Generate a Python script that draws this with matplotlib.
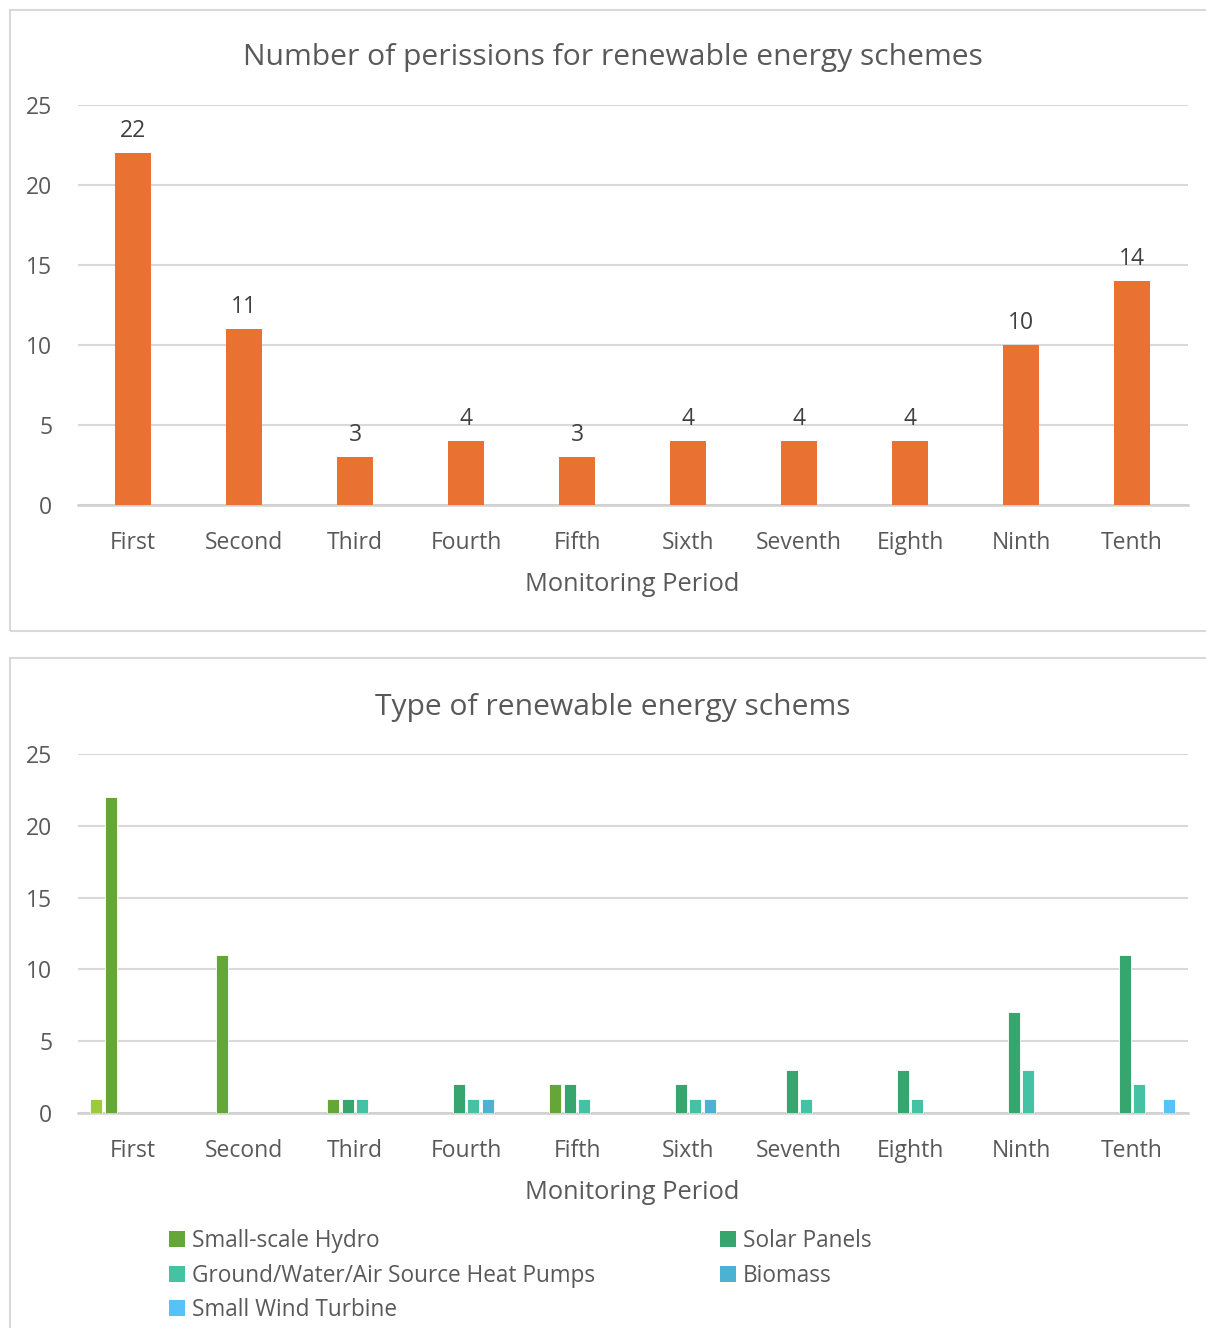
import matplotlib
matplotlib.use("Agg")
import matplotlib.pyplot as plt
import numpy as np
from matplotlib.patches import Rectangle, Patch

plt.rcParams['font.family'] = ['Open Sans', 'DejaVu Sans']

periods = ["First", "Second", "Third", "Fourth", "Fifth",
           "Sixth", "Seventh", "Eighth", "Ninth", "Tenth"]
permissions = [22, 11, 3, 4, 3, 4, 4, 4, 10, 14]

other = [1, 0, 0, 0, 0, 0, 0, 0, 0, 0]
hydro = [22, 11, 1, 0, 2, 0, 0, 0, 0, 0]
solar = [0, 0, 1, 2, 2, 2, 3, 3, 7, 11]
heat_pumps = [0, 0, 1, 1, 1, 1, 1, 1, 3, 2]
biomass = [0, 0, 0, 1, 0, 1, 0, 0, 0, 0]
wind = [0, 0, 0, 0, 0, 0, 0, 0, 0, 1]

series_names = ["", "Small-scale Hydro", "Solar Panels",
                "Ground/Water/Air Source Heat Pumps", "Biomass", "Small Wind Turbine"]
series_values = [other, hydro, solar, heat_pumps, biomass, wind]
series_colors = ["#9BCB3B", "#64A638", "#37A56E", "#44C2A3", "#4DB2D2", "#56C3F8"]

W, H = 1206, 1328
fig = plt.figure(figsize=(W / 100, H / 100), dpi=100)
fig.patch.set_facecolor("white")

TXT = "#595959"
GRID = "#D9D9D9"
TICK_FS = 16.5


def px_axes(x0, y0, x1, y1):
    return fig.add_axes([x0 / W, 1 - y1 / H, (x1 - x0) / W, (y1 - y0) / H])


def style_axes(ax):
    ax.set_xlim(-0.5, len(periods) - 0.5)
    ax.set_ylim(0, 25)
    ax.set_yticks(range(0, 26, 5))
    ax.yaxis.grid(True, color=GRID, linewidth=1.5)
    ax.set_axisbelow(True)
    for s in ["top", "right", "left"]:
        ax.spines[s].set_visible(False)
    ax.spines["bottom"].set_color("#D0D0D0")
    ax.spines["bottom"].set_linewidth(1.8)
    ax.tick_params(axis="both", length=0, labelsize=TICK_FS, labelcolor=TXT)
    ax.tick_params(axis="x", pad=19)
    ax.tick_params(axis="y", pad=18)
    ax.set_xticks(range(len(periods)))
    ax.set_xticklabels(periods)
    ax.set_xlabel("Monitoring Period", fontsize=18.3, color=TXT, labelpad=12)


# panel frames
fig.add_artist(Rectangle((10 / W, 1 - 631 / H), 1200 / W, 621 / H, transform=fig.transFigure,
                         facecolor="none", edgecolor=GRID, linewidth=1.5))
fig.add_artist(Rectangle((10 / W, 1 - 1340 / H), 1200 / W, 682 / H, transform=fig.transFigure,
                         facecolor="none", edgecolor=GRID, linewidth=1.5))

# top chart: total permissions
ax1 = px_axes(77.5, 105, 1187.5, 505)
style_axes(ax1)
x = np.arange(len(periods))
bars = ax1.bar(x, permissions, width=0.32, color="#E97132", zorder=3)
ax1.bar_label(bars, labels=[str(v) for v in permissions], padding=7, fontsize=TICK_FS, color="#404040")
fig.text(613 / W, 1 - 57 / H, "Number of perissions for renewable energy schemes",
         ha="center", va="center", fontsize=21.6, color=TXT)

# bottom chart: scheme types
ax2 = px_axes(77.5, 754, 1187.5, 1113)
style_axes(ax2)
n = len(series_values)
bw = 0.133
for i, (name, vals, col) in enumerate(zip(series_names, series_values, series_colors)):
    offs = (i - (n - 1) / 2) * bw
    ax2.bar(x + offs, vals, width=bw * 0.8, color=col, edgecolor="#FFFFFF",
            linewidth=0.6, zorder=3)
fig.text(613 / W, 1 - 707 / H, "Type of renewable energy schems",
         ha="center", va="center", fontsize=21.6, color=TXT)

handles = [Patch(facecolor=c) for c in series_colors[1:]]
labels = series_names[1:]
order = [0, 2, 4, 1, 3]
leg = fig.legend([handles[i] for i in order], [labels[i] for i in order],
                 loc="upper left", bbox_to_anchor=(160 / W, 1 - 1220 / H), ncol=2,
                 frameon=False, fontsize=16.3, labelcolor=TXT, handlelength=0.7,
                 handleheight=0.7, handletextpad=0.3, columnspacing=5.55,
                 labelspacing=0.47, borderaxespad=0)

fig.savefig("out.png", dpi=100)
